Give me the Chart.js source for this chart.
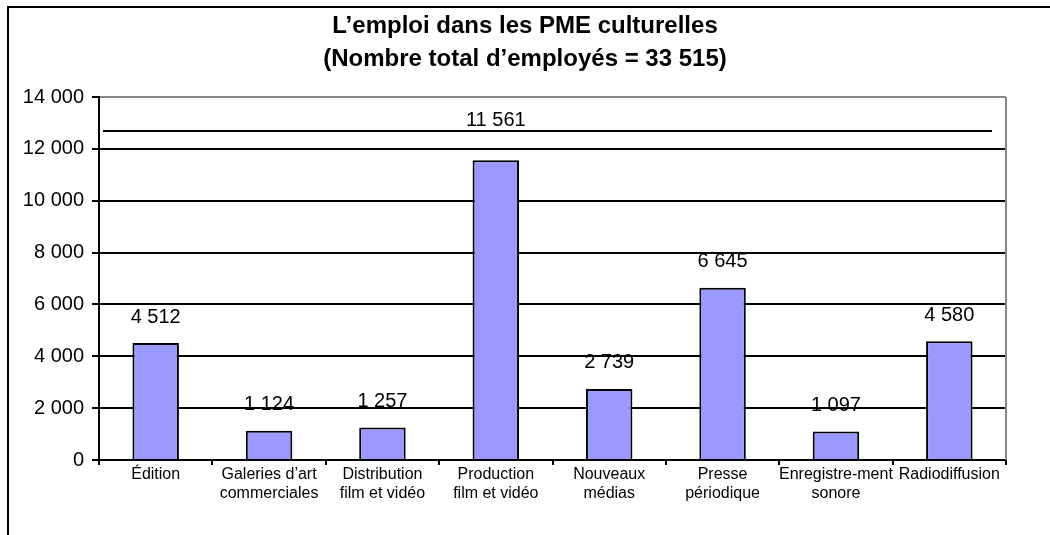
<!DOCTYPE html>
<html>
<head>
<meta charset="utf-8">
<script src="https://cdn.jsdelivr.net/npm/chart.js@4"></script>
<style>
  html, body { margin: 0; padding: 0; background: #fff; }
  #wrap { position: relative; width: 1050px; height: 535px; }
</style>
</head>
<body>
<div id="wrap"><canvas id="emploi"></canvas></div>
<script>
// L'emploi dans les PME culturelles
var titleLines = ['L\u2019emploi dans les PME culturelles', '(Nombre total d\u2019employ\u00e9s = 33 515)'];
var categories = [
  ['\u00c9dition'],
  ['Galeries d\u2019art', 'commerciales'],
  ['Distribution', 'film et vid\u00e9o'],
  ['Production', 'film et vid\u00e9o'],
  ['Nouveaux', 'm\u00e9dias'],
  ['Presse', 'p\u00e9riodique'],
  ['Enregistre-ment', 'sonore'],
  ['Radiodiffusion']
];
var employes = [4512, 1124, 1257, 11561, 2739, 6645, 1097, 4580];
var yMin = 0, yMax = 14000, yStep = 2000;
var traitHaut = 12700; // le trait horizontal au-dessus des barres

var FONT = '"Liberation Sans", Arial, sans-serif';

function fmt(n) {
  return String(n).replace(/\B(?=(\d{3})+(?!\d))/g, ' ');
}

var decor = {
  id: 'decor',
  beforeDraw: function(chart) {
    var c = chart.ctx;
    c.save();
    c.fillStyle = '#fff';
    c.fillRect(0, 0, chart.width, chart.height);
    // cadre
    c.strokeStyle = '#000';
    c.lineWidth = 2;
    c.beginPath();
    c.moveTo(8, chart.height);
    c.lineTo(8, 7);
    c.lineTo(chart.width, 7);
    c.stroke();
    // titre
    c.fillStyle = '#000';
    c.font = 'bold 24px ' + FONT;
    c.textAlign = 'center';
    c.textBaseline = 'middle';
    c.fillText(titleLines[0], chart.width / 2, 26);
    c.fillText(titleLines[1], chart.width / 2, 59);
    c.restore();
  },
  afterDraw: function(chart) {
    var c = chart.ctx, a = chart.chartArea, y = chart.scales.y;
    c.save();
    c.strokeStyle = '#888';
    c.lineWidth = 2;
    c.beginPath();
    c.moveTo(a.right, a.top);
    c.lineTo(a.right, a.bottom);
    c.stroke();
    // trait
    var ly = Math.round(y.getPixelForValue(traitHaut));
    c.strokeStyle = '#000';
    c.beginPath();
    c.moveTo(a.left + 4, ly);
    c.lineTo(a.right - 14, ly);
    c.stroke();
    // étiquettes des valeurs
    c.fillStyle = '#000';
    c.font = '20px ' + FONT;
    c.textAlign = 'center';
    c.textBaseline = 'middle';
    chart.getDatasetMeta(0).data.forEach(function(bar, i) {
      var ty = bar.y - 26;
      if (ty - 10 < ly && ty + 10 > ly) ty = ly - 11;
      c.fillText(fmt(employes[i]), bar.x, ty);
    });
    c.restore();
  }
};

new Chart(document.getElementById('emploi'), {
  type: 'bar',
  data: {
    labels: categories,
    datasets: [{
      data: employes,
      backgroundColor: '#9999ff',
      borderColor: '#000',
      borderWidth: 2,
      barPercentage: 0.41,
      categoryPercentage: 1
    }]
  },
  options: {
    responsive: true,
    maintainAspectRatio: false,
    animation: false,
    layout: { padding: { left: 0, right: 44, top: 97, bottom: 0 } },
    plugins: {
      legend: { display: false },
      tooltip: { enabled: false },
      title: { display: false }
    },
    scales: {
      x: {
        offset: true,
        grid: { display: true, offset: true, drawOnChartArea: false, color: '#000', tickLength: 5, lineWidth: 2 },
        border: { color: '#000', width: 2 },
        ticks: {
          color: '#000',
          padding: 0,
          maxRotation: 0,
          autoSkip: false,
          font: { family: FONT, size: 16, lineHeight: 1.2 }
        },
        afterFit: function(s) { s.height = 75; }
      },
      y: {
        min: yMin,
        max: yMax,
        grid: {
          color: function(ctx) { return ctx.tick && ctx.tick.value === yMax ? '#888' : '#000'; },
          lineWidth: 2,
          tickLength: 7,
          tickColor: '#000'
        },
        border: { color: '#000', width: 2 },
        ticks: {
          stepSize: yStep,
          color: '#000',
          padding: 8,
          font: { family: FONT, size: 20 },
          callback: function(v) { return fmt(v); }
        },
        afterFit: function(s) { s.width = 99; }
      }
    }
  },
  plugins: [decor]
});
</script>
</body>
</html>
